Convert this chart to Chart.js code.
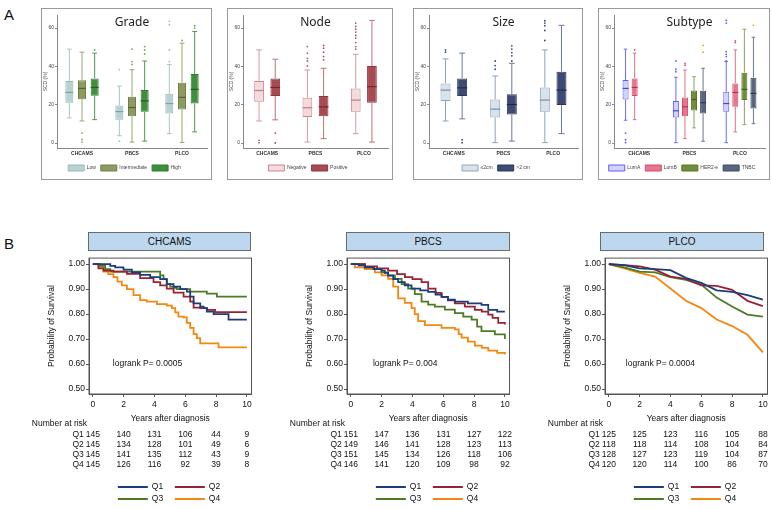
<!DOCTYPE html>
<html>
<head>
<meta charset="utf-8">
<script src="https://cdn.jsdelivr.net/npm/chart.js@4.4.0/dist/chart.umd.min.js"></script>
<style>
  body { margin: 0; width: 772px; height: 509px; position: relative; overflow: hidden; background: #fff;
         font-family: "Liberation Sans", Arial, sans-serif; }
  .panel { position: absolute; border: 1px solid #9a9a9a; box-sizing: border-box; }
  .panel canvas { position: absolute; left: 0; top: 0; display: block; }
  .km { position: absolute; display: block; }
  .strip { position: absolute; top: 232px; height: 19px; background: #bdd7ee; border: 1px solid #6b6b6b;
           box-sizing: border-box; text-align: center; font-size: 10px; line-height: 17px; color: #111; }
  .lbl { position: absolute; font-size: 15px; color: #111; }
</style>
</head>
<body>
<div class="lbl" style="left:4px;top:6px">A</div>
<div class="panel" style="left:41px;top:8px;width:171px;height:172px"><canvas id="gradeChart" width="169" height="172"></canvas></div>
<div class="panel" style="left:227px;top:8px;width:166px;height:172px"><canvas id="nodeChart" width="164" height="172"></canvas></div>
<div class="panel" style="left:413px;top:8px;width:170px;height:172px"><canvas id="sizeChart" width="168" height="172"></canvas></div>
<div class="panel" style="left:598px;top:8px;width:172px;height:172px"><canvas id="subtypeChart" width="170" height="172"></canvas></div>

<div class="lbl" style="left:4px;top:235px">B</div>
<div class="strip" style="left:88px;width:163px">CHCAMS</div>
<div class="strip" style="left:346px;width:164px">PBCS</div>
<div class="strip" style="left:600px;width:164px">PLCO</div>
<canvas id="kmChcams" class="km" style="left:0px;top:252px" width="258" height="257"></canvas>
<canvas id="kmPbcs" class="km" style="left:258px;top:252px" width="258" height="257"></canvas>
<canvas id="kmPlco" class="km" style="left:516px;top:252px" width="258" height="257"></canvas>

<script>
// ---- Panel A data: [lower whisker, Q1, median, Q3, upper whisker] per cohort ----
const cohorts = ['CHCAMS', 'PBCS', 'PLCO'];

const gradeGroups = ['Low', 'Intermediate', 'High'];
const gradeLow = [[13.1, 21, 26.4, 32.3, 49], [3.8, 12.2, 16.4, 19.6, 29.7], [4.9, 15.4, 20.6, 25.7, 41]];
const gradeLowOut = [[], [38.3, 1], [63.5, 61.7, 48.6, 42.5]];
const gradeMid = [[11.5, 22.9, 28.5, 32.7, 47.4], [0.5, 14, 18.5, 24.1, 38.3], [0.3, 17.5, 23.8, 31.5, 52.1]];
const gradeMidOut = [[5.2, 1.9, 0.5], [49, 42.5, 41], [53.5]];
const gradeHigh = [[12.2, 24.7, 29, 33.7, 46.9], [1, 16.3, 22, 27.6, 42.8], [5.8, 20.6, 28, 36, 58.2]];
const gradeHighOut = [[48.6], [50.3, 48.6, 46.5], [61.2, 60]];

const nodeGroups = ['Negative', 'Positive'];
const nodeNeg = [[11.5, 21.5, 27.4, 32.3, 48.6], [0.5, 13.6, 18.4, 23.6, 38.1], [4.9, 16.3, 22.4, 28.5, 46.3]];
const nodeNegOut = [[1.4, 0.2], [50.3, 46.9, 44.2, 42.8, 40.2], [62.6, 60.8, 59.4, 57.9, 56.1, 54.7, 52.4, 50.3, 49]];
const nodePos = [[12.1, 24.5, 29, 33.7, 43.7], [2.3, 14, 18.9, 24.5, 39], [0.5, 21, 29.4, 40.2, 64]];
const nodePosOut = [[5.2, 0], [50.9, 49.5, 47.4, 45.1, 43.4], []];

const sizeGroups = ['\u22642cm', '>2 cm'];
const sizeSmall = [[11.5, 21.9, 27.6, 31.1, 43.9], [0.2, 13.3, 17.7, 22.7, 35], [0.2, 16.3, 22.4, 29, 48.6]];
const sizeSmallOut = [[48.6, 47.4], [42.8, 40.4, 38.5], [63.8, 62.6, 61.2, 58.7, 53.5]];
const sizeLarge = [[12.6, 24.5, 28.8, 33.7, 46.9], [1, 14.9, 20.1, 25.5, 41.6], [4.9, 19.8, 27.6, 37.2, 61.4]];
const sizeLargeOut = [[1.7, 0.2], [50.7, 49, 47.2, 45.5, 42.8], []];

const subtypeGroups = ['LumA', 'LumB', 'HER2-e', 'TNBC'];
const subLumA = [[11.9, 22.7, 28.5, 32.9, 49], [0.2, 13.3, 16.8, 21.9, 34.3], [0.2, 16.3, 20.6, 26.7, 42.5]];
const subLumAOut = [[5.2, 1.7, 0.2], [42.8, 38.5, 37.2], [64, 62.6, 47.7, 46.3, 45.1, 42.8]];
const subLumB = [[12.2, 24.5, 29, 33.7, 46.9], [2.3, 14, 18.9, 23.8, 38.1], [5.8, 18.9, 26.4, 31.1, 48.6]];
const subLumBOut = [[48.6], [41.6, 40.6], [53.3, 52.4]];
const subHer2 = [null, [7.9, 17, 22.7, 27.4, 34.6], [9.6, 22.4, 28, 36.7, 59.4]];
const subHer2Out = [[], [], []];
const subTnbc = [null, [0.9, 15.4, 21, 27.3, 39], [10.1, 18, 25.9, 34.1, 55.2]];
const subTnbcOut = [[], [50.9, 47.4], [61.4]];

// ---- Panel B data: Kaplan-Meier curves [years, survival] ----
const quartiles = ['Q1', 'Q2', 'Q3', 'Q4'];
const riskYears = [0, 2, 4, 6, 8, 10];

const chcamsQ1 = [[0, 1], [1.13, 0.993], [1.45, 0.987], [1.99, 0.978], [2.53, 0.967], [3.07, 0.957], [3.72, 0.948], [4.37, 0.94], [4.8, 0.92], [5.24, 0.91], [5.67, 0.9], [6.1, 0.89], [6.32, 0.87], [6.54, 0.843], [6.97, 0.83], [7.19, 0.824], [7.4, 0.81], [7.84, 0.8], [8.81, 0.778], [10, 0.778]];
const chcamsQ2 = [[0, 1], [0.37, 0.983], [0.69, 0.974], [1.34, 0.97], [2.21, 0.961], [3.07, 0.944], [3.94, 0.928], [4.37, 0.915], [4.8, 0.902], [5.24, 0.886], [5.89, 0.87], [6.32, 0.85], [6.54, 0.826], [6.97, 0.824], [7.4, 0.817], [7.94, 0.808], [10, 0.808]];
const chcamsQ3 = [[0, 1], [0.48, 0.993], [0.8, 0.98], [1.13, 0.97], [4.16, 0.97], [4.37, 0.955], [4.59, 0.94], [4.8, 0.92], [5.02, 0.91], [5.24, 0.905], [5.45, 0.9], [6.32, 0.89], [7.4, 0.882], [8.05, 0.87], [10, 0.87]];
const chcamsQ4 = [[0, 1], [0.35, 0.99], [0.69, 0.97], [1.0, 0.96], [1.34, 0.948], [1.6, 0.93], [1.88, 0.915], [2.21, 0.9], [2.64, 0.876], [3.07, 0.856], [3.5, 0.85], [4.16, 0.84], [4.8, 0.834], [5.13, 0.824], [5.35, 0.807], [5.56, 0.79], [5.89, 0.787], [6.1, 0.765], [6.32, 0.745], [6.54, 0.72], [6.75, 0.704], [6.97, 0.683], [8.16, 0.667], [10, 0.667]];

const pbcsQ1 = [[0, 1], [0.5, 0.995], [0.91, 0.987], [1.5, 0.98], [1.99, 0.974], [2.2, 0.965], [2.42, 0.954], [2.75, 0.94], [3.07, 0.928], [3.5, 0.915], [3.94, 0.902], [4.5, 0.895], [5.02, 0.889], [5.5, 0.878], [5.89, 0.869], [6.3, 0.858], [6.75, 0.85], [7.6, 0.843], [8.48, 0.837], [8.92, 0.817], [9.5, 0.81], [10, 0.81]];
const pbcsQ2 = [[0, 1], [0.91, 0.991], [1.7, 0.983], [2.42, 0.974], [3.0, 0.96], [3.51, 0.948], [4.0, 0.94], [4.59, 0.928], [5.02, 0.902], [5.5, 0.885], [5.89, 0.869], [6.3, 0.855], [6.75, 0.843], [7.4, 0.83], [8.05, 0.817], [8.5, 0.81], [8.92, 0.798], [9.2, 0.785], [9.57, 0.765], [10, 0.758]];
const pbcsQ3 = [[0, 1], [0.91, 0.987], [1.45, 0.98], [1.99, 0.967], [2.42, 0.955], [2.86, 0.941], [3.3, 0.92], [3.72, 0.902], [4.15, 0.88], [4.59, 0.85], [5.02, 0.838], [5.45, 0.83], [6.1, 0.818], [6.75, 0.804], [7.3, 0.79], [7.84, 0.778], [8.2, 0.75], [8.48, 0.732], [9.35, 0.719], [10, 0.7]];
const pbcsQ4 = [[0, 1], [0.26, 0.987], [0.9, 0.98], [1.56, 0.967], [2.0, 0.955], [2.42, 0.941], [2.75, 0.91], [3.07, 0.863], [3.5, 0.845], [3.94, 0.824], [4.15, 0.8], [4.37, 0.772], [4.81, 0.756], [5.89, 0.745], [6.75, 0.739], [7.0, 0.72], [7.19, 0.706], [7.6, 0.69], [8.05, 0.674], [8.5, 0.665], [8.92, 0.654], [9.5, 0.645], [10, 0.638]];

const plcoYears = [0, 1, 2, 3, 4, 5, 6, 7, 8, 9, 10];
const plcoQ1 = [1, 0.996, 0.983, 0.98, 0.976, 0.945, 0.925, 0.895, 0.889, 0.876, 0.858];
const plcoQ2 = [1, 0.996, 0.991, 0.978, 0.95, 0.941, 0.915, 0.913, 0.897, 0.853, 0.832];
const plcoQ3 = [1, 0.987, 0.97, 0.967, 0.948, 0.937, 0.918, 0.866, 0.83, 0.798, 0.79];
const plcoQ4 = [1, 0.983, 0.965, 0.95, 0.902, 0.853, 0.824, 0.778, 0.752, 0.717, 0.647];

const chcamsAtRisk = [[145, 140, 131, 106, 44, 9], [145, 134, 128, 101, 49, 6], [145, 141, 135, 112, 43, 9], [145, 126, 116, 92, 39, 8]];
const pbcsAtRisk = [[151, 147, 136, 131, 127, 122], [149, 146, 141, 128, 123, 113], [151, 145, 134, 126, 118, 106], [146, 141, 120, 109, 98, 92]];
const plcoAtRisk = [[125, 125, 123, 116, 105, 88], [118, 118, 114, 108, 104, 84], [128, 127, 123, 119, 104, 87], [120, 120, 114, 100, 86, 70]];

const kmColors = ['#1c3d7c', '#9b2233', '#4b7b22', '#f4870f'];

Chart.defaults.font.family = '"Liberation Sans", Arial, sans-serif';

// whiskers, medians and outliers drawn on top of the floating-bar boxes
const boxExtras = {
    id: 'boxExtras',
    afterDatasetsDraw(chart) {
        const ctx = chart.ctx;
        const y = chart.scales.y;
        chart.data.datasets.forEach((ds, di) => {
            const meta = chart.getDatasetMeta(di);
            meta.data.forEach((bar, i) => {
                const s = ds.stats[i];
                if (!s) return;
                const half = bar.width / 2;
                const cap = half * 0.6;
                ctx.save();
                ctx.strokeStyle = ds.whiskerColor;
                ctx.lineWidth = 1;
                ctx.beginPath();
                ctx.moveTo(bar.x, y.getPixelForValue(s[3]));
                ctx.lineTo(bar.x, y.getPixelForValue(s[4]));
                ctx.moveTo(bar.x, y.getPixelForValue(s[1]));
                ctx.lineTo(bar.x, y.getPixelForValue(s[0]));
                ctx.moveTo(bar.x - cap, y.getPixelForValue(s[4]));
                ctx.lineTo(bar.x + cap, y.getPixelForValue(s[4]));
                ctx.moveTo(bar.x - cap, y.getPixelForValue(s[0]));
                ctx.lineTo(bar.x + cap, y.getPixelForValue(s[0]));
                ctx.stroke();

                ctx.strokeStyle = ds.medianColor;
                ctx.lineWidth = 1.2;
                ctx.beginPath();
                ctx.moveTo(bar.x - half, y.getPixelForValue(s[2]));
                ctx.lineTo(bar.x + half, y.getPixelForValue(s[2]));
                ctx.stroke();

                ctx.fillStyle = ds.dotColor;
                ds.outliers[i].forEach(v => {
                    ctx.beginPath();
                    ctx.arc(bar.x, y.getPixelForValue(v), 0.9, 0, Math.PI * 2);
                    ctx.fill();
                });
                ctx.restore();
            });
        });
    }
};

const panelTitle = {
    id: 'panelTitle',
    afterDraw(chart, args, opts) {
        const a = chart.chartArea;
        const ctx = chart.ctx;
        ctx.save();
        ctx.font = '12px "Noto Sans", sans-serif';
        ctx.fillStyle = '#222';
        ctx.textAlign = 'center';
        ctx.textBaseline = 'middle';
        ctx.fillText(opts.text, (a.left + a.right) / 2, a.top + 8);
        ctx.restore();
    }
};

function renderBoxChart(id, title, groups, stats, outs, styles, catPct, barPct) {
    new Chart(document.getElementById(id), {
        type: 'bar',
        data: {
            labels: cohorts,
            datasets: groups.map((g, j) => ({
                label: g,
                data: stats[j].map(s => s ? [s[1], s[3]] : null),
                stats: stats[j],
                outliers: outs[j],
                backgroundColor: styles[j].fill,
                borderColor: styles[j].border,
                borderWidth: 1,
                borderSkipped: false,
                whiskerColor: styles[j].whisker,
                medianColor: styles[j].median,
                dotColor: styles[j].dot,
                categoryPercentage: catPct,
                barPercentage: barPct
            }))
        },
        options: {
            responsive: false,
            animation: false,
            layout: { padding: { left: 0, right: 4, top: 6, bottom: 0 } },
            plugins: {
                legend: {
                    position: 'bottom',
                    labels: { boxWidth: 16, boxHeight: 6, padding: 5, font: { size: 5 }, color: '#444' }
                },
                tooltip: { enabled: false },
                panelTitle: { text: title }
            },
            scales: {
                x: {
                    grid: { display: false, drawTicks: false },
                    border: { color: '#888' },
                    ticks: { font: { size: 5, weight: 'bold' }, color: '#333', padding: 3 },
                    afterFit: s => { s.height = 12; }
                },
                y: {
                    min: -2.6,
                    max: 66.8,
                    grid: { drawOnChartArea: false, tickLength: 2, color: '#888' },
                    border: { color: '#888' },
                    ticks: { stepSize: 20, includeBounds: false, font: { size: 5 }, color: '#444', padding: 1 },
                    title: { display: true, text: 'SCD (%)', font: { size: 5 }, color: '#444', padding: { top: 1, bottom: 0 } },
                    afterFit: s => { s.width = 15; }
                }
            }
        },
        plugins: [boxExtras, panelTitle]
    });
}

// risk table, legend, frame and log-rank note under/around each survival plot
const kmExtras = {
    id: 'kmExtras',
    afterDraw(chart, args, o) {
        const ctx = chart.ctx;
        const a = chart.chartArea;
        const x = chart.scales.x, y = chart.scales.y;
        ctx.save();
        ctx.strokeStyle = '#555';
        ctx.lineWidth = 1;
        ctx.strokeRect(a.left, a.top, a.right - a.left, a.bottom - a.top);

        ctx.font = '8.5px "Liberation Sans", Arial, sans-serif';
        ctx.fillStyle = '#111';
        ctx.textBaseline = 'middle';
        ctx.textAlign = 'left';
        ctx.fillText(o.logrank, x.getPixelForValue(o.noteAt[0]), y.getPixelForValue(o.noteAt[1]));

        const x0 = x.getPixelForValue(0);
        ctx.fillText('Number at risk', x0 - 61, a.bottom + 30);
        o.atRisk.forEach((row, r) => {
            const yy = a.bottom + 41 + r * 10;
            ctx.textAlign = 'right';
            ctx.fillText(quartiles[r], x0 - 9, yy);
            ctx.textAlign = 'center';
            row.forEach((n, k) => ctx.fillText(String(n), x.getPixelForValue(riskYears[k]), yy));
        });

        // 2 x 2 legend
        ctx.textAlign = 'left';
        ctx.lineWidth = 2;
        quartiles.forEach((q, i) => {
            const lx = x0 + (i % 2 === 0 ? 25 : 82);
            const ly = a.bottom + 93 + Math.floor(i / 2) * 12;
            ctx.strokeStyle = kmColors[i];
            ctx.beginPath();
            ctx.moveTo(lx, ly);
            ctx.lineTo(lx + 30, ly);
            ctx.stroke();
            ctx.fillText(q, lx + 34, ly);
        });
        ctx.restore();
    }
};

function renderKmChart(id, curves, stepped, atRisk, logrank, noteAt) {
    new Chart(document.getElementById(id), {
        type: 'line',
        data: {
            datasets: curves.map((c, q) => ({
                label: quartiles[q],
                data: c.map(p => ({ x: p[0], y: p[1] })),
                borderColor: kmColors[q],
                borderWidth: 1.8,
                pointRadius: 0,
                stepped: stepped,
                fill: false
            }))
        },
        options: {
            responsive: false,
            animation: false,
            layout: { padding: { left: 43, right: 6.5, top: 4, bottom: 85 } },
            plugins: {
                legend: { display: false },
                tooltip: { enabled: false },
                kmExtras: { atRisk: atRisk, logrank: logrank, noteAt: noteAt }
            },
            scales: {
                x: {
                    type: 'linear',
                    min: -0.25,
                    max: 10.3,
                    grid: { drawOnChartArea: false, tickLength: 3, color: '#555' },
                    border: { color: '#555' },
                    ticks: { stepSize: 2, includeBounds: false, font: { size: 8.5 }, color: '#111', padding: 3 },
                    title: { display: true, text: 'Years after diagnosis', font: { size: 8.5 }, color: '#111', padding: { top: 2, bottom: 0 } },
                    afterFit: s => { s.height = 30; }
                },
                y: {
                    min: 0.48,
                    max: 1.024,
                    grid: { drawOnChartArea: false, tickLength: 3, color: '#555' },
                    border: { color: '#555' },
                    ticks: { stepSize: 0.1, includeBounds: false, font: { size: 8.5 }, color: '#111', padding: 1,
                             callback: v => Number(v).toFixed(2) },
                    title: { display: true, text: 'Probability of Survival', font: { size: 8.5 }, color: '#111', padding: { top: 4, bottom: 0 } },
                    afterFit: s => { s.width = 46; }
                }
            }
        },
        plugins: [kmExtras]
    });
}

renderBoxChart('gradeChart', 'Grade', gradeGroups,
    [gradeLow, gradeMid, gradeHigh], [gradeLowOut, gradeMidOut, gradeHighOut],
    [
        { fill: '#b9d2d1', border: '#95b8b7', whisker: '#a9c6c5', median: '#7fa3a2', dot: '#9fbfbe' },
        { fill: '#8c9c60', border: '#6f8048', whisker: '#97a66f', median: '#56652f', dot: '#8c9c60' },
        { fill: '#3f8f3f', border: '#2c7a2c', whisker: '#4e9a4e', median: '#1f5f1f', dot: '#6aa83a' }
    ], 0.76, 0.63);

renderBoxChart('nodeChart', 'Node', nodeGroups,
    [nodeNeg, nodePos], [nodeNegOut, nodePosOut],
    [
        { fill: '#f4dadd', border: '#c88791', whisker: '#d39aa2', median: '#c07a85', dot: '#b05a66' },
        { fill: '#a94a52', border: '#8d3640', whisker: '#c0707a', median: '#76262f', dot: '#a94a52' }
    ], 0.67, 0.6);

renderBoxChart('sizeChart', 'Size', sizeGroups,
    [sizeSmall, sizeLarge], [sizeSmallOut, sizeLargeOut],
    [
        { fill: '#d8e2eb', border: '#8ea6bb', whisker: '#8ea6bb', median: '#7892a8', dot: '#3d4b74' },
        { fill: '#3d4b74', border: '#2b375c', whisker: '#6c7a9a', median: '#1f2a4a', dot: '#3d4b74' }
    ], 0.67, 0.6);

renderBoxChart('subtypeChart', 'Subtype', subtypeGroups,
    [subLumA, subLumB, subHer2, subTnbc], [subLumAOut, subLumBOut, subHer2Out, subTnbcOut],
    [
        { fill: '#d2d2fb', border: '#5c5cff', whisker: '#6a6aff', median: '#4040ee', dot: '#5c5cff' },
        { fill: '#e6768f', border: '#d94a68', whisker: '#e0708a', median: '#b83050', dot: '#d94a68' },
        { fill: '#6f8e3b', border: '#58772b', whisker: '#8aa060', median: '#42601c', dot: '#e8a030' },
        { fill: '#5a6580', border: '#3f4a66', whisker: '#6a7590', median: '#303a55', dot: '#e8a030' }
    ], 0.72, 0.66);

const toPairs = vals => vals.map((v, i) => [plcoYears[i], v]);

renderKmChart('kmChcams', [chcamsQ1, chcamsQ2, chcamsQ3, chcamsQ4], true, chcamsAtRisk, 'logrank P= 0.0005', [1.3, 0.6]);
renderKmChart('kmPbcs', [pbcsQ1, pbcsQ2, pbcsQ3, pbcsQ4], true, pbcsAtRisk, 'logrank P= 0.004', [1.43, 0.6]);
renderKmChart('kmPlco', [plcoQ1, plcoQ2, plcoQ3, plcoQ4].map(toPairs), false, plcoAtRisk, 'logrank P= 0.0004', [1.1, 0.6]);
</script>
</body>
</html>
